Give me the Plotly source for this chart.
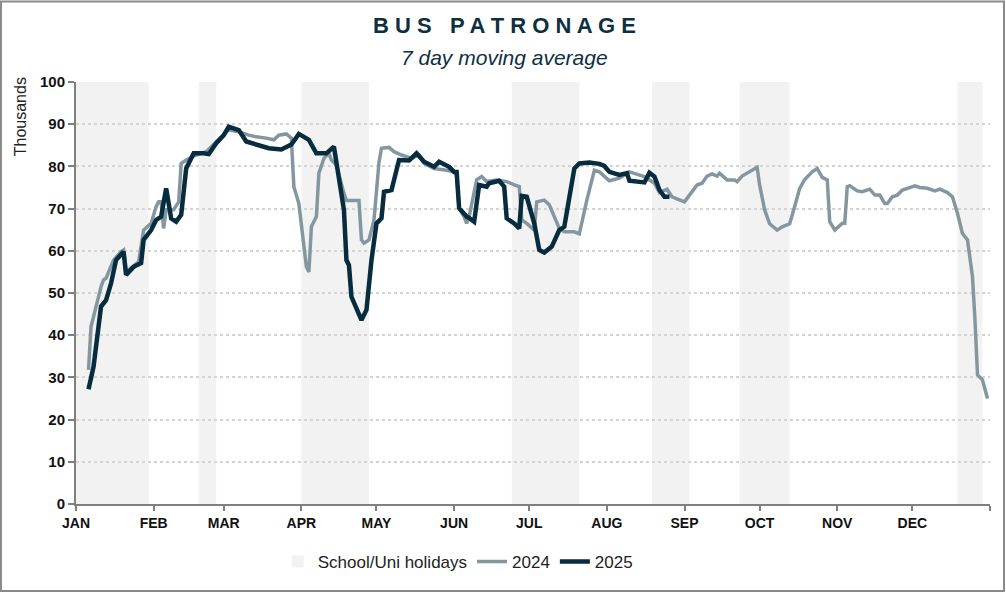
import plotly.graph_objects as go

AXIS_YEAR = "2025"

# holiday periods (shaded bands)
holiday_start = ["01-01", "02-19", "04-01", "06-24", "08-19", "09-23", "12-19"]
holiday_end = ["01-30", "02-26", "04-28", "07-21", "09-03", "10-13", "12-29"]

# 2024 patronage, 7 day moving average (thousands)
days_2024 = [
    "01-06", "01-07", "01-11", "01-12", "01-13", "01-16", "01-19", "01-20", "01-21", "01-24",
    "01-26", "01-28", "01-31", "02-02", "02-03", "02-04", "02-05", "02-06", "02-09", "02-11",
    "02-12", "02-14", "02-18", "02-22", "02-26", "03-02", "03-03", "03-07", "03-11", "03-14",
    "03-18", "03-21", "03-23", "03-26", "03-28", "03-29", "03-31", "04-02", "04-03", "04-04",
    "04-05", "04-07", "04-08", "04-10", "04-12", "04-13", "04-15", "04-18", "04-19", "04-24",
    "04-25", "04-26", "04-28", "04-30", "05-02", "05-03", "05-06", "05-08", "05-11", "05-15",
    "05-18", "05-20", "05-24", "05-29", "06-01", "06-02", "06-03", "06-05", "06-06", "06-07",
    "06-10", "06-12", "06-14", "06-18", "06-22", "06-25", "06-27", "06-28", "06-30", "07-03",
    "07-04", "07-07", "07-09", "07-13", "07-15", "07-19", "07-21", "07-24", "07-27", "07-29",
    "08-02", "08-06", "08-10", "08-16", "08-20", "08-22", "08-25", "08-27", "08-30", "09-01",
    "09-03", "09-04", "09-06", "09-08", "09-10", "09-12", "09-14", "09-15", "09-18", "09-21",
    "09-22", "09-24", "09-27", "09-30", "10-01", "10-03", "10-05", "10-08", "10-10", "10-13",
    "10-15", "10-17", "10-19", "10-22", "10-24", "10-26", "10-28", "10-29", "10-31", "11-03",
    "11-04", "11-05", "11-06", "11-09", "11-11", "11-14", "11-16", "11-18", "11-20", "11-21",
    "11-23", "11-25", "11-27", "11-29", "12-02", "12-04", "12-07", "12-10", "12-12", "12-15",
    "12-17", "12-19", "12-21", "12-23", "12-25", "12-26", "12-27", "12-29", "12-31",
]
values_2024 = [
    31.8, 42.0, 51.5, 53.1, 53.5, 57.8, 59.8, 60.2, 55.0, 56.5,
    57.4, 64.9, 66.5, 70.5, 71.6, 71.6, 65.3, 69.7, 69.7, 71.6,
    80.7, 81.5, 82.7, 83.5, 85.9, 88.2, 88.6, 88.2, 87.4, 87.0,
    86.7, 86.3, 87.4, 87.7, 86.7, 75.2, 71.2, 61.8, 56.2, 55.0,
    65.7, 68.1, 78.4, 81.9, 83.1, 81.5, 80.3, 73.6, 71.9, 71.9,
    62.6, 61.8, 62.6, 67.3, 81.0, 84.3, 84.5, 83.5, 82.7, 81.9,
    82.7, 80.7, 79.5, 79.1, 78.7, 78.0, 70.1, 68.1, 66.5, 68.1,
    76.8, 77.6, 76.4, 76.8, 76.4, 75.6, 75.2, 67.3, 66.5, 64.9,
    71.6, 72.0, 70.9, 65.3, 64.5, 64.5, 64.0, 72.0, 79.1, 78.7,
    76.6, 77.2, 78.7, 77.6, 76.0, 73.8, 74.6, 72.8, 72.0, 71.6,
    73.2, 74.0, 75.6, 76.0, 77.7, 78.2, 77.7, 78.4, 76.8, 76.8,
    76.4, 77.7, 78.7, 79.8, 75.6, 69.7, 66.4, 64.9, 65.7, 66.4,
    70.5, 74.8, 76.9, 78.7, 79.5, 77.4, 76.8, 66.9, 64.9, 66.5,
    66.5, 75.2, 75.4, 74.2, 74.0, 74.6, 73.2, 73.2, 71.2, 71.2,
    72.8, 73.2, 74.4, 74.8, 75.4, 75.0, 74.8, 74.2, 74.6, 73.8,
    72.8, 68.9, 64.1, 62.6, 53.9, 43.6, 30.6, 29.4, 25.0,
]

# 2025 patronage, 7 day moving average (thousands)
days_2025 = [
    "01-06", "01-08", "01-11", "01-13", "01-15", "01-17", "01-20", "01-21", "01-24", "01-27",
    "01-28", "01-31", "02-02", "02-04", "02-06", "02-08", "02-10", "02-12", "02-14", "02-17",
    "02-21", "02-23", "02-26", "03-01", "03-03", "03-07", "03-10", "03-14", "03-19", "03-24",
    "03-28", "03-31", "04-04", "04-07", "04-11", "04-14", "04-16", "04-18", "04-19", "04-20",
    "04-21", "04-23", "04-25", "04-27", "04-29", "05-01", "05-03", "05-04", "05-06", "05-07",
    "05-10", "05-14", "05-17", "05-20", "05-24", "05-26", "05-30", "06-01", "06-02", "06-03",
    "06-06", "06-07", "06-09", "06-11", "06-14", "06-15", "06-19", "06-21", "06-22", "06-25",
    "06-27", "06-28", "06-30", "07-03", "07-05", "07-07", "07-10", "07-13", "07-15", "07-17",
    "07-19", "07-21", "07-25", "07-29", "07-31", "08-02", "08-06", "08-09", "08-10", "08-16",
    "08-18", "08-20", "08-22", "08-24", "08-26",
]
values_2025 = [
    27.2, 32.5, 46.8, 48.3, 52.3, 57.8, 59.8, 54.3, 56.2, 57.1,
    62.6, 64.9, 67.3, 68.1, 74.8, 67.7, 66.9, 68.5, 79.5, 83.1,
    83.1, 82.9, 85.5, 87.4, 89.4, 88.6, 85.9, 85.1, 84.3, 84.0,
    85.2, 87.7, 86.3, 83.1, 83.1, 84.7, 77.6, 69.7, 57.8, 56.6,
    49.1, 46.0, 43.6, 46.0, 57.8, 66.5, 67.7, 74.0, 74.4, 74.4,
    81.5, 81.4, 83.1, 81.1, 79.9, 81.1, 79.9, 78.7, 78.7, 70.1,
    68.1, 67.8, 66.9, 75.6, 75.2, 76.0, 76.6, 75.2, 67.7, 66.5,
    65.3, 73.0, 72.8, 66.5, 60.2, 59.6, 61.0, 64.9, 65.7, 72.8,
    79.5, 80.7, 80.9, 80.6, 80.1, 78.7, 78.0, 78.4, 76.6, 76.2,
    78.5, 77.6, 74.4, 72.8, 72.8,
]

month_starts = ["01-01", "02-01", "03-01", "04-01", "05-01", "06-01",
                "07-01", "08-01", "09-01", "10-01", "11-01", "12-01"]
month_labels = ["JAN", "FEB", "MAR", "APR", "MAY", "JUN",
                "JUL", "AUG", "SEP", "OCT", "NOV", "DEC"]

GREY = "#8497A1"
NAVY = "#062C3D"
TITLE = "#0E2F3F"
FONT = "Liberation Sans Narrow, Liberation Sans, Arial, sans-serif"


def on_axis(md):
    return f"{AXIS_YEAR}-{md}"


fig = go.Figure()

fig.add_trace(go.Scatter(
    x=[on_axis(d) for d in days_2024], y=values_2024,
    mode="lines", name="2024", legendrank=2,
    line=dict(color=GREY, width=3.5),
))
fig.add_trace(go.Scatter(
    x=[on_axis(d) for d in days_2025], y=values_2025,
    mode="lines", name="2025", legendrank=3,
    line=dict(color=NAVY, width=4.5),
))

# holiday bands
for i, (s, e) in enumerate(zip(holiday_start, holiday_end)):
    fig.add_shape(
        type="rect", xref="x", yref="paper",
        x0=on_axis(s), x1=on_axis(e), y0=0, y1=1,
        fillcolor="#F2F2F2", line=dict(width=0), layer="below",
        name="School/Uni holidays", legendgroup="hol",
        showlegend=(i == 0), legendrank=1,
    )

# outer frame
fig.add_shape(type="rect", xref="paper", yref="paper",
              x0=-0.0821, x1=1.0153, y0=-0.2062, y1=1.1908,
              line=dict(color="#8A8A8A", width=2), layer="above")

fig.add_annotation(text="<b>B U S   P A T R O N A G E</b>", xref="paper", yref="paper",
                   x=0.4683, y=1.135, xanchor="center", yanchor="middle", showarrow=False,
                   font=dict(family=FONT, size=22, color=TITLE))
fig.add_annotation(text="<i>7 day moving average</i>", xref="paper", yref="paper",
                   x=0.4683, y=1.059, xanchor="center", yanchor="middle", showarrow=False,
                   font=dict(family=FONT, size=21, color=TITLE))
fig.add_annotation(text="Thousands", xref="paper", yref="paper", textangle=-90,
                   x=-0.061, y=0.917, xanchor="center", yanchor="middle", showarrow=False,
                   font=dict(family=FONT, size=16, color="#222222"))

fig.update_xaxes(
    type="date",
    range=[on_axis("01-01"), "2026-01-01"],
    tickvals=[on_axis(m) for m in month_starts] + ["2026-01-01"],
    ticktext=[f"<b>{m}</b>" for m in month_labels] + [""],
    ticks="outside", ticklen=5, tickcolor="#7F7F7F", tickwidth=1.5,
    showline=True, linecolor="#7F7F7F", linewidth=2,
    showgrid=False, zeroline=False, automargin=False,
    tickfont=dict(family=FONT, size=14, color="#111111"),
)
fig.update_yaxes(
    range=[0, 100], dtick=10,
    tickprefix="<b>", ticksuffix="</b>",
    ticks="outside", ticklen=6, tickcolor="#7F7F7F", tickwidth=1.5,
    showline=True, linecolor="#7F7F7F", linewidth=2,
    showgrid=True, gridcolor="#D4D4D4", griddash="dot", gridwidth=1.5,
    zeroline=False, automargin=False,
    tickfont=dict(family=FONT, size=15, color="#111111"),
)

fig.update_layout(
    width=1006, height=593,
    margin=dict(l=76, r=16, t=82, b=89),
    paper_bgcolor="white", plot_bgcolor="white",
    font=dict(family=FONT, color="#222222"),
    showlegend=True,
    legend=dict(orientation="h", xref="container", yref="container",
                x=0.455, xanchor="center", y=0.0523, yanchor="middle",
                font=dict(family=FONT, size=17, color="#222222"),
                traceorder="normal"),
)

fig.write_html(
    "out.html",
    config={"displayModeBar": False},
    post_script="document.body.style.margin='0';document.body.style.overflow='hidden';",
)
